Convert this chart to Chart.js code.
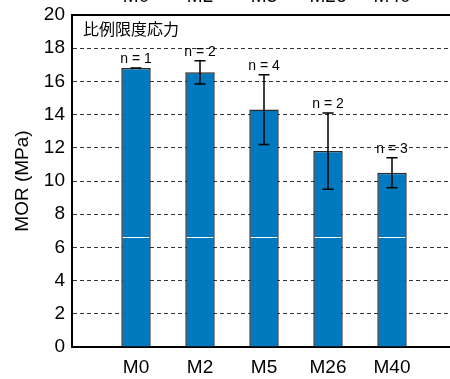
<!DOCTYPE html>
<html>
<head>
<meta charset="utf-8">
<script src="https://cdn.jsdelivr.net/npm/chart.js@4"></script>
<style>
  html, body { margin: 0; padding: 0; background: #fff; overflow: hidden; width: 450px; height: 379px; }
  #grafico { display: block; }
</style>
</head>
<body>
<canvas id="grafico" width="456" height="379"></canvas>
<script>
// 比例限度応力 (MOR) por muestra
const categorias = ['M0', 'M2', 'M5', 'M26', 'M40'];
const medias = [16.8, 16.55, 14.3, 11.8, 10.5];
const desviaciones = [0, 0.7, 2.1, 2.3, 0.9];
const muestras = [1, 2, 4, 2, 3];
const marcaInterna = [6.6, 6.6, 6.6, 6.6, 6.6];

const fuente = "'Liberation Sans', Arial, sans-serif";

// etiquetas con hueco a cada lado para que las barras queden en 1..5
const etiquetas = ['', ...categorias, ''];
const valores = [null, ...medias, null];

const pluginExtras = {
  id: 'extras',
  afterDatasetsDraw(chart) {
    const { ctx, scales: { x, y } } = chart;
    const meta = chart.getDatasetMeta(0);
    ctx.save();
    categorias.forEach((c, i) => {
      const bar = meta.data[i + 1];
      const cx = x.getPixelForValue(i + 1);
      const half = bar.width / 2;

      // linea blanca dentro de la barra
      const yl = Math.round(y.getPixelForValue(marcaInterna[i])) + 0.5;
      ctx.strokeStyle = '#fff';
      ctx.lineWidth = 1;
      ctx.beginPath();
      ctx.moveTo(cx - half + 1.5, yl);
      ctx.lineTo(cx + half - 1.5, yl);
      ctx.stroke();

      // barra de error
      const top = y.getPixelForValue(medias[i] + desviaciones[i]);
      const bot = y.getPixelForValue(medias[i] - desviaciones[i]);
      ctx.strokeStyle = '#000';
      ctx.lineWidth = 1.5;
      ctx.beginPath();
      ctx.moveTo(cx, top);
      ctx.lineTo(cx, bot);
      ctx.moveTo(cx - 5.5, top);
      ctx.lineTo(cx + 5.5, top);
      ctx.moveTo(cx - 5.5, bot);
      ctx.lineTo(cx + 5.5, bot);
      ctx.stroke();

      // n
      ctx.fillStyle = '#000';
      ctx.font = '14px ' + fuente;
      ctx.textAlign = 'center';
      ctx.textBaseline = 'bottom';
      ctx.fillText('n = ' + muestras[i], cx, top - 2);
    });
    ctx.restore();
  },
  afterDraw(chart) {
    const { ctx, chartArea, scales: { x } } = chart;
    ctx.save();
    // borde superior
    ctx.strokeStyle = '#000';
    ctx.lineWidth = 2;
    ctx.beginPath();
    ctx.moveTo(chartArea.left - 1, chartArea.top);
    ctx.lineTo(chartArea.right + 6, chartArea.top);
    ctx.stroke();

    // titulo dentro del grafico
    ctx.fillStyle = '#000';
    ctx.font = "16px 'Noto Sans CJK JP', sans-serif";
    ctx.textAlign = 'left';
    ctx.textBaseline = 'middle';
    ctx.fillText('比例限度応力', chartArea.left + 11, chartArea.top + 14);

    // etiquetas del grafico superior (cortadas)
    ctx.font = '19px ' + fuente;
    ctx.textAlign = 'center';
    ctx.textBaseline = 'alphabetic';
    categorias.forEach((c, i) => {
      ctx.fillText(c, x.getPixelForValue(i + 1), 2);
    });
    ctx.restore();
  }
};

new Chart(document.getElementById('grafico'), {
  type: 'bar',
  data: {
    labels: etiquetas,
    datasets: [{
      label: 'MOR',
      data: valores,
      backgroundColor: '#0079bf',
      borderColor: '#2a2a2a',
      borderWidth: 1.5,
      barPercentage: 0.46,
      categoryPercentage: 1
    }]
  },
  options: {
    responsive: false,
    animation: false,
    layout: { padding: { top: 15, right: 0, left: 0, bottom: 0 } },
    plugins: {
      legend: { display: false },
      tooltip: { enabled: false }
    },
    scales: {
      x: {
        offset: false,
        grid: { display: false, drawTicks: false },
        border: { display: true, color: '#000', width: 2 },
        ticks: {
          color: '#000',
          font: { family: fuente, size: 19 },
          padding: 9,
          maxRotation: 0,
          autoSkip: false
        },
        afterFit: s => {
          s.height = 32;
          s.paddingLeft = 0;
          s.paddingRight = 0;
        }
      },
      y: {
        min: 0,
        max: 20,
        grid: {
          color: '#333',
          lineWidth: 1,
          drawTicks: false
        },
        border: { display: true, color: '#000', width: 2, dash: [4, 3] },
        ticks: {
          stepSize: 2,
          color: '#000',
          font: { family: fuente, size: 19 },
          padding: 7
        },
        title: {
          display: true,
          text: 'MOR (MPa)',
          color: '#000',
          font: { family: fuente, size: 19 },
          padding: { top: 11, bottom: 0 }
        },
        afterFit: s => {
          s.width = 72;
          s.paddingTop = 0;
          s.paddingBottom = 0;
        }
      }
    }
  },
  plugins: [pluginExtras]
});
</script>
</body>
</html>
